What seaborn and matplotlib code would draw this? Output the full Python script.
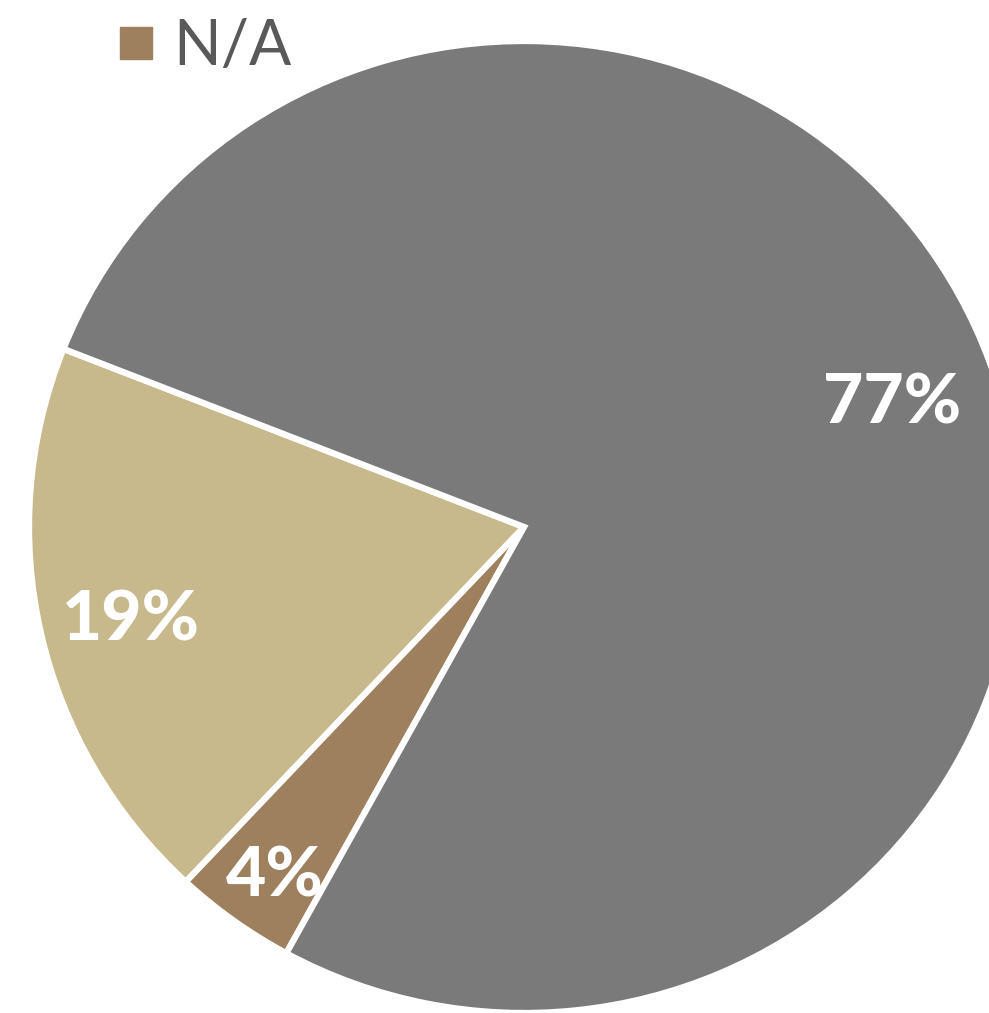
import numpy as np
import matplotlib
matplotlib.use("Agg")
import matplotlib.pyplot as plt
from matplotlib.lines import Line2D
import seaborn as sns

# slice data (counterclockwise from the upper-left boundary)
labels = ["Sí", "N/A", "No"]
shares = [19, 4, 77]
pct_text = ["19%", "4%", "77%"]
colors = ["#c7b98b", "#9e7f5e", "#7a7a7a"]
label_dist = [0.825, 0.875, 0.78]

sns.set_theme(style="white")
plt.rcParams["font.family"] = ["Lato", "DejaVu Sans"]

W, H = 989, 1013
fig = plt.figure(figsize=(W / 100, H / 100), dpi=100)
ax = fig.add_axes([0, 0, 1, 1])

wedges, _ = ax.pie(shares, colors=colors, startangle=158.5, counterclock=True,
                   wedgeprops=dict(edgecolor="white", linewidth=4.5))
ax.set_aspect("auto")

# pie centre / radii in pixels -> axis limits
cx, cy, rx, ry = 524, 527, 495, 486
ax.set_xlim(-cx / rx, (W - cx) / rx)
ax.set_ylim(-(H - cy) / ry, cy / ry)
ax.axis("off")

for w, t, d in zip(wedges, pct_text, label_dist):
    mid = np.deg2rad((w.theta1 + w.theta2) / 2)
    ax.text(d * np.cos(mid) + 0.01, d * np.sin(mid), t, ha="center", va="center_baseline",
            color="white", fontsize=50, fontweight="black")

# only the N/A entry of the legend is visible in the crop
handle = Line2D([], [], marker="s", linestyle="", markersize=23,
                markerfacecolor=colors[1], markeredgecolor=colors[1])
fig.legend([handle], [labels[1]], loc="upper left", bbox_to_anchor=(0.052, 1.038),
           frameon=False, labelcolor="#595959", handletextpad=0.15,
           handlelength=0.9, prop=dict(family=["Lato", "DejaVu Sans"], weight="normal", size=45))

fig.savefig("out.png", dpi=100)
